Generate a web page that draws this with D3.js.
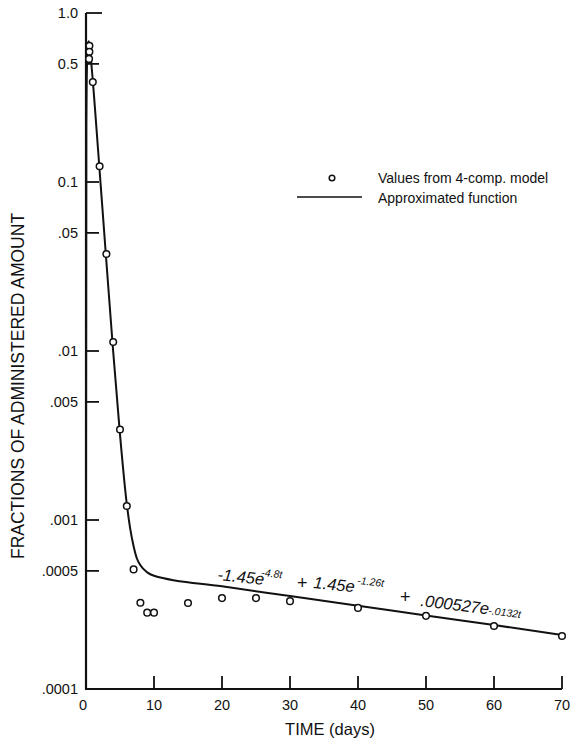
<!DOCTYPE html>
<html>
<head>
<meta charset="utf-8">
<script src="https://cdn.jsdelivr.net/npm/d3@7"></script>
<style>
  html, body { margin: 0; padding: 0; background: #fff; }
  svg { display: block; font-family: "Liberation Sans", Arial, Helvetica, sans-serif; }
</style>
</head>
<body>
<svg id="chart" width="580" height="744"></svg>
<script>
// ---- data ----
const pointTimes  = [0.5, 0.5, 0.45, 1, 2, 3, 4, 5, 6, 7, 8, 9, 10, 15, 20, 25, 30, 40, 50, 60, 70];
const pointValues = [0.64, 0.59, 0.535, 0.39, 0.124, 0.0375, 0.0113, 0.00343, 0.00121, 0.00051,
                     0.000324, 0.000283, 0.000283, 0.000323, 0.000345, 0.000345, 0.000331,
                     0.000302, 0.000271, 0.000236, 0.000206];

const curveTimes  = [0, 0.05, 0.1, 0.2, 0.3, 0.4, 0.5, 0.75, 1, 1.5, 2, 3, 4, 5, 6, 6.5, 7, 7.5, 8, 9, 10, 20, 30, 40, 50, 60, 70];
const curveValues = [0.0005, 0.22, 0.38, 0.57, 0.66, 0.68, 0.64, 0.52, 0.40, 0.218, 0.117, 0.0337, 0.0099,
                     0.0032, 0.00124, 0.00089, 0.0007, 0.00059, 0.00054, 0.00049, 0.000468,
                     0.000405, 0.000355, 0.000311, 0.000272, 0.000239, 0.000209];

const xTicks = [0, 10, 20, 30, 40, 50, 60, 70];
const yTicks = [1, 0.5, 0.1, 0.05, 0.01, 0.005, 0.001, 0.0005, 0.0001];
const yTickLabels = ["1.0", "0.5", "0.1", ".05", ".01", ".005", ".001", ".0005", ".0001"];

const legendLabels = ["Values from 4-comp. model", "Approximated function"];
const xTitle = "TIME (days)";
const yTitle = "FRACTIONS OF ADMINISTERED AMOUNT";

// ---- layout ----
const svg = d3.select("#chart");
const x = d3.scaleLinear().domain([0, 70]).range([86, 562]);
const y = d3.scaleLog().domain([0.0001, 1]).range([689, 13]);
const ink = "#111";

const g = svg.append("g");

// axes lines
g.append("line").attr("x1", x(0)).attr("x2", x(0)).attr("y1", y(1)).attr("y2", y(0.0001))
  .attr("stroke", ink).attr("stroke-width", 2.2);
g.append("line").attr("x1", x(0) - 1).attr("x2", x(70)).attr("y1", y(0.0001)).attr("y2", y(0.0001))
  .attr("stroke", ink).attr("stroke-width", 2.2);

// y ticks (inward) and labels
yTicks.forEach((v, i) => {
  if (v !== 0.0001) {
    g.append("line")
      .attr("x1", x(0)).attr("x2", x(0) + (v === 1 ? 16 : 13))
      .attr("y1", y(v)).attr("y2", y(v))
      .attr("stroke", ink).attr("stroke-width", 1.8);
  }
  g.append("text")
    .attr("x", x(0) - 8).attr("y", y(v) + 5)
    .attr("text-anchor", "end").attr("font-size", 14.5).attr("fill", ink)
    .text(yTickLabels[i]);
});

// x ticks (inward) and labels
xTicks.forEach(t => {
  if (t !== 0) {
    g.append("line")
      .attr("x1", x(t)).attr("x2", x(t))
      .attr("y1", y(0.0001)).attr("y2", y(0.0001) - 13)
      .attr("stroke", ink).attr("stroke-width", 1.8);
  }
  g.append("text")
    .attr("x", x(t) - (t === 0 ? 3 : 0)).attr("y", 710)
    .attr("text-anchor", "middle").attr("font-size", 14.5).attr("fill", ink)
    .text(t);
});

// axis titles
g.append("text").attr("x", 330).attr("y", 735).attr("text-anchor", "middle")
  .attr("font-size", 16.5).attr("fill", ink).text(xTitle);
g.append("text").attr("transform", "translate(24,386) rotate(-90)")
  .attr("text-anchor", "middle").attr("font-size", 17.5).attr("fill", ink).text(yTitle);

// approximated function curve
const curveData = curveTimes.map((t, i) => [t, curveValues[i]]);
const line = d3.line().x(d => x(d[0])).y(d => y(d[1])).curve(d3.curveMonotoneX);
g.append("path").datum(curveData).attr("d", line)
  .attr("fill", "none").attr("stroke", ink).attr("stroke-width", 2);

// points
const pts = pointTimes.map((t, i) => [t, pointValues[i]]);
g.selectAll("circle.pt").data(pts).enter().append("circle")
  .attr("class", "pt")
  .attr("cx", d => x(d[0])).attr("cy", d => y(d[1])).attr("r", 3.3)
  .attr("fill", "#fff").attr("stroke", ink).attr("stroke-width", 1.5);

// legend
g.append("circle").attr("cx", 332).attr("cy", 178).attr("r", 2.8)
  .attr("fill", "#fff").attr("stroke", ink).attr("stroke-width", 1.5);
g.append("text").attr("x", 378).attr("y", 183).attr("font-size", 14).attr("fill", ink).text(legendLabels[0]);
g.append("line").attr("x1", 297).attr("x2", 362).attr("y1", 197).attr("y2", 197)
  .attr("stroke", ink).attr("stroke-width", 1.5);
g.append("text").attr("x", 378).attr("y", 203).attr("font-size", 14).attr("fill", ink).text(legendLabels[1]);

// formula annotation
const formula = [
  {t: "-1.45e",   x: 217, y: 580, s: 16.5, r: 6},
  {t: "-4.8t",    x: 261, y: 576, s: 10.5, r: 6},
  {t: "+",        x: 297, y: 589, s: 18,   r: 0},
  {t: "1.45e",    x: 313, y: 588, s: 16.5, r: 6},
  {t: "-1.26t",   x: 357, y: 584, s: 10.5, r: 6},
  {t: "+",        x: 400, y: 603, s: 18,   r: 0},
  {t: ".000527e", x: 420, y: 606, s: 16.5, r: 7},
  {t: "-.0132t",  x: 488, y: 614, s: 10.5, r: 7}
];
formula.forEach(f => {
  g.append("text")
    .attr("transform", `translate(${f.x},${f.y}) rotate(${f.r})`)
    .attr("font-size", f.s).attr("font-style", f.t === "+" ? "normal" : "italic")
    .attr("fill", ink).text(f.t);
});
</script>
</body>
</html>
